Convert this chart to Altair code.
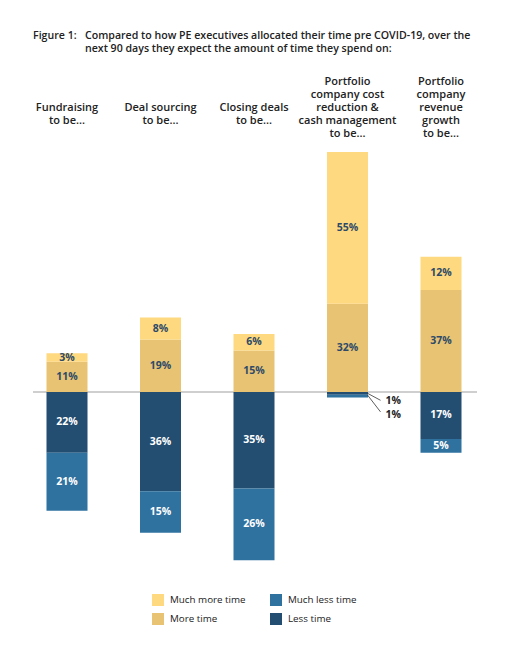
import altair as alt
import pandas as pd

# ---------------- data ----------------
keys = ["fund", "deal", "close", "cost", "rev"]
headers = [
    ["Fundraising", "to be..."],
    ["Deal sourcing", "to be..."],
    ["Closing deals", "to be..."],
    ["Portfolio", "company cost", "reduction &", "cash management", "to be..."],
    ["Portfolio", "company", "revenue", "growth", "to be..."],
]
much_more = [3, 8, 6, 55, 12]
more = [11, 19, 15, 32, 37]
less = [22, 36, 35, 1, 17]
much_less = [21, 15, 26, 1, 5]

series_order = ["Much more time", "More time", "Much less time", "Less time"]
series_colors = ["#FFD97F", "#E7C373", "#2F72A0", "#234E71"]

title_lead = "Figure 1:"
title_lines = [
    "Compared to how PE executives allocated their time pre COVID-19, over the",
    "next 90 days they expect the amount of time they spend on:",
]

# small labels outside the thin cost-reduction bar
callout_text = ["1%", "1%"]
callout_y_from = [-0.47, -1.1]
callout_y_to = [-3.0, -7.2]
callout_label_y = [-3.26, -8.4]

# ---------------- build tables ----------------
rows = []
for i, k in enumerate(keys):
    a = more[i]
    b = much_more[i]
    c = less[i]
    d = much_less[i]
    hide_neg = k == "cost"
    rows.append(dict(cat=k, series="More time", y0=0, y1=a, mid=a / 2, lab=f"{a}%", dark=True))
    rows.append(dict(cat=k, series="Much more time", y0=a, y1=a + b, mid=a + b / 2, lab=f"{b}%", dark=True))
    rows.append(dict(cat=k, series="Less time", y0=0, y1=-c, mid=-c / 2,
                     lab="" if hide_neg else f"{c}%", dark=False))
    rows.append(dict(cat=k, series="Much less time", y0=-c, y1=-c - d, mid=-c - d / 2,
                     lab="" if hide_neg else f"{d}%", dark=False))
seg = pd.DataFrame(rows)

hdr = pd.DataFrame({"cat": keys, "h": headers, "n": [len(h) for h in headers]})
callouts = pd.DataFrame({
    "cat": ["cost", "cost"], "t": callout_text,
    "yf": callout_y_from, "yt": callout_y_to, "yl": callout_label_y,
})
ttl = pd.DataFrame({"lead": [title_lead], "lines": [title_lines]})

FONT = "Open Sans"

xs = alt.Scale(domain=keys, range=[12.25, 479.75], paddingInner=0, paddingOuter=0)
ys = alt.Scale(domain=[-92.39, 139.13], nice=False, zero=False)

X = alt.X("cat:N", scale=xs, axis=None, sort=keys)

zero_line = alt.Chart(pd.DataFrame({"z": [0]})).mark_rule(
    color="#BFBFBF", strokeWidth=1.5
).encode(y=alt.Y("z:Q", scale=ys, axis=None), x=alt.value(25), x2=alt.value(469))

bars = alt.Chart(seg).mark_bar(size=41).encode(
    x=X,
    y=alt.Y("y0:Q", scale=ys, axis=None),
    y2="y1:Q",
    color=alt.Color(
        "series:N",
        scale=alt.Scale(domain=series_order, range=series_colors),
        legend=alt.Legend(
            title=None, orient="none", legendX=144, legendY=586, columns=2,
            direction="vertical",
            symbolType="square", symbolSize=144, symbolStrokeWidth=0,
            labelFont=FONT, labelFontSize=9.8, labelColor="#222222",
            labelOffset=6, rowPadding=7, columnPadding=24,
        ),
    ),
)

lab_dark = alt.Chart(seg).transform_filter("datum.dark").mark_text(
    font=FONT, fontSize=10.5, fontWeight=700, color="#2E4A68", baseline="middle"
).encode(x=X, y=alt.Y("mid:Q", scale=ys), text="lab:N")

lab_light = alt.Chart(seg).transform_filter("!datum.dark").mark_text(
    font=FONT, fontSize=10.5, fontWeight=700, color="#FFFFFF", baseline="middle"
).encode(x=X, y=alt.Y("mid:Q", scale=ys), text="lab:N")

leader = alt.Chart(callouts).mark_rule(
    color="#333333", strokeWidth=0.8, xOffset=20, x2Offset=33
).encode(x=X, x2="cat:N", y=alt.Y("yf:Q", scale=ys), y2="yt:Q")

call_lab = alt.Chart(callouts).mark_text(
    font=FONT, fontSize=10.5, fontWeight=700, color="#222222",
    align="left", baseline="middle", dx=38
).encode(x=X, y=alt.Y("yl:Q", scale=ys), text="t:N")

head_style = dict(font=FONT, fontSize=11, fontWeight=600, color="#222222",
                  align="center", baseline="alphabetic", lineHeight=13)

head_long = alt.Chart(hdr).transform_filter("datum.n == 5").mark_text(**head_style).encode(
    x=X, y=alt.value(77), text="h")
head_short = alt.Chart(hdr).transform_filter("datum.n == 2").mark_text(**head_style).encode(
    x=X, y=alt.value(103), text="h")

t_lead = alt.Chart(ttl).mark_text(
    font=FONT, fontSize=10.6, fontWeight=600, color="#222222",
    align="left", baseline="alphabetic"
).encode(x=alt.value(25), y=alt.value(30.5), text="lead:N")

t_body = alt.Chart(ttl).mark_text(
    font=FONT, fontSize=10.6, fontWeight=600, color="#222222",
    align="left", baseline="alphabetic", lineHeight=13
).encode(x=alt.value(77), y=alt.value(30.5), text="lines")

chart = alt.layer(
    zero_line, bars, lab_dark, lab_light, leader, call_lab,
    head_long, head_short, t_lead, t_body
).properties(
    width=496, height=639, padding=0, autosize=alt.AutoSizeParams(type="none")
).configure_view(stroke=None)

chart.save("out.html", embed_options={"renderer": "svg", "actions": False})
